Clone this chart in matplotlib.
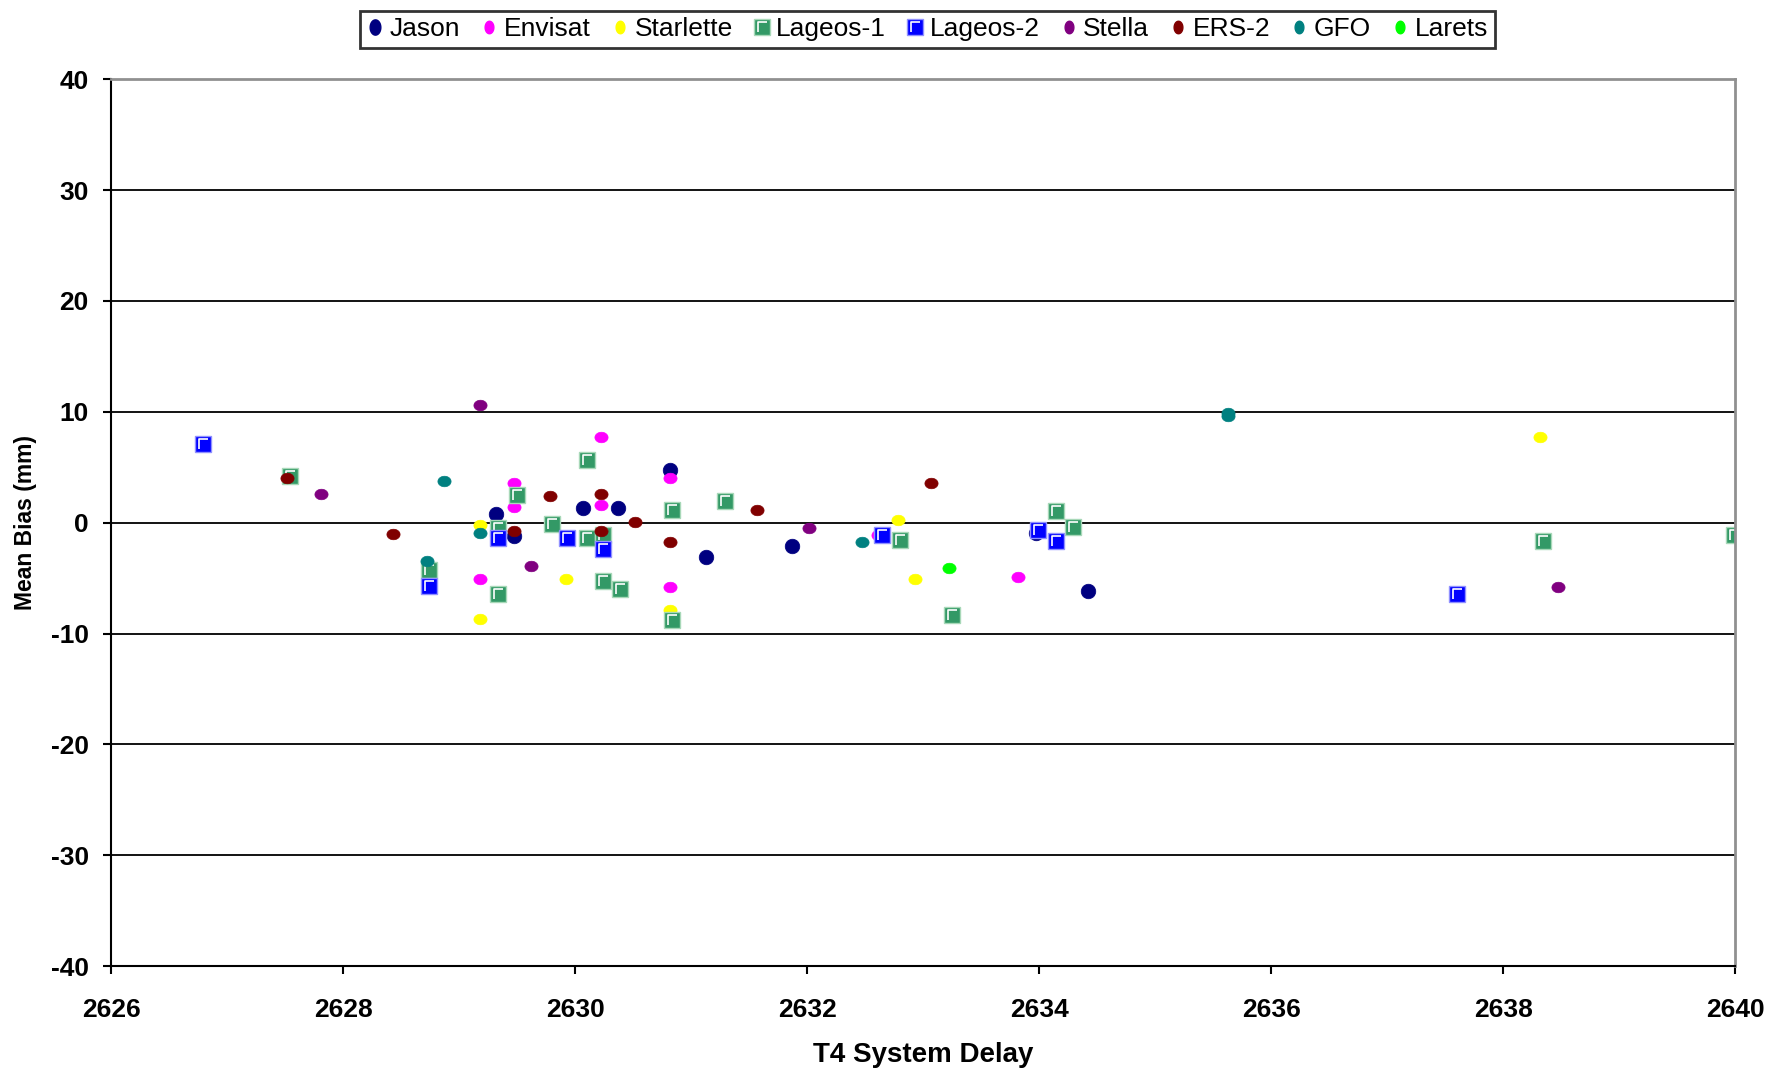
import numpy as np
import matplotlib.pyplot as plt
from matplotlib.path import Path
from matplotlib.legend_handler import HandlerTuple

plt.rcParams['font.family'] = ['Liberation Sans', 'DejaVu Sans']
plt.rcParams['axes.unicode_minus'] = False

# Data: (T4 system delay, mean bias in mm) per satellite
jason_x = [2629.32, 2629.47, 2630.07, 2630.37, 2630.82, 2631.13, 2631.87, 2633.97, 2634.42]
jason_y = [0.8, -1.16, 1.31, 1.31, 4.71, -3.05, -2.09, -0.92, -6.18]

envisat_x = [2629.18, 2629.47, 2629.47, 2630.22, 2630.22, 2630.82, 2630.82, 2632.61, 2633.82]
envisat_y = [-5.1, 3.6, 1.4, 7.72, 1.64, 4.02, -5.79, -1.13, -4.89]

starlette_x = [2629.18, 2629.18, 2629.92, 2630.82, 2632.78, 2632.93, 2638.32]
starlette_y = [-0.2, -8.68, -5.04, -7.9, 0.23, -5.1, 7.72]

lageos1_x = [2627.54, 2628.74, 2629.34, 2629.34, 2629.50, 2629.80, 2630.10, 2630.10, 2630.24, 2630.24,
             2630.39, 2630.84, 2630.84, 2631.29, 2632.80, 2633.25, 2634.15, 2634.29, 2638.34, 2639.99]
lageos1_y = [4.17, -4.26, -0.47, -6.42, 2.5, -0.16, 5.64, -1.37, -1.13, -5.22,
             -5.94, 1.1, -8.8, 2.0, -1.6, -8.35, 1.04, -0.41, -1.61, -1.13]

lageos2_x = [2626.79, 2628.74, 2629.34, 2629.93, 2630.24, 2632.65, 2633.99, 2634.15, 2637.60]
lageos2_y = [7.06, -5.7, -1.37, -1.37, -2.33, -1.13, -0.68, -1.61, -6.42]

stella_x = [2627.81, 2629.18, 2629.62, 2632.02, 2638.47]
stella_y = [2.6, 10.58, -3.87, -0.5, -5.82]

ers2_x = [2627.52, 2628.43, 2629.47, 2629.78, 2630.22, 2630.22, 2630.52, 2630.82, 2631.57, 2633.07]
ers2_y = [4.0, -0.98, -0.77, 2.4, 2.63, -0.77, 0.1, -1.76, 1.19, 3.54]

gfo_x = [2628.72, 2628.87, 2629.18, 2632.47, 2635.63, 2635.63]
gfo_y = [-3.47, 3.8, -0.95, -1.73, 9.9, 9.6]

larets_x = [2633.22]
larets_y = [-4.13]

series = [
    ("Jason", jason_x, jason_y, "#000080", "big"),
    ("Envisat", envisat_x, envisat_y, "#FF00FF", "dot"),
    ("Starlette", starlette_x, starlette_y, "#FFFF00", "dot"),
    ("Lageos-1", lageos1_x, lageos1_y, "#339966", "square"),
    ("Lageos-2", lageos2_x, lageos2_y, "#0000FF", "square"),
    ("Stella", stella_x, stella_y, "#800080", "dot"),
    ("ERS-2", ers2_x, ers2_y, "#800000", "dot"),
    ("GFO", gfo_x, gfo_y, "#008080", "dot"),
    ("Larets", larets_x, larets_y, "#00FF00", "dot"),
]

# slightly squashed dot like the spreadsheet markers
t = np.linspace(0, 2 * np.pi, 40)
dot = Path(np.column_stack([np.cos(t), 0.8 * np.sin(t)]), closed=True)
# legend shows the dots standing upright
tall_dot = Path(np.column_stack([0.7 * np.cos(t), np.sin(t)]), closed=True)
# white inner corner on the square markers
corner = Path([(-0.5, -0.5), (-0.28, -0.32), (-0.28, 0.3), (0.34, 0.3)],
              [Path.MOVETO, Path.MOVETO, Path.LINETO, Path.LINETO])
light_edge = {"#339966": "#a8d8b8", "#0000FF": "#9090ff"}

fig = plt.figure(figsize=(17.76, 10.70), dpi=100)
ax = fig.add_axes([0.0625, 0.097, 0.9145, 0.829])

handles = []
labels = []
for name, xs, ys, col, kind in series:
    if kind == "square":
        h1, = ax.plot(xs, ys, linestyle='none', marker='s', markersize=11.5,
                      markerfacecolor=col, markeredgecolor=light_edge[col], markeredgewidth=1)
        h2, = ax.plot(xs, ys, linestyle='none', marker=corner, markersize=11.5,
                      markerfacecolor='none', markeredgecolor='white', markeredgewidth=1.2)
        handles.append((h1, h2))
    else:
        if kind == "big":
            ax.plot(xs, ys, linestyle='none', marker='o', markersize=10.5,
                    markerfacecolor=col, markeredgecolor=col, markeredgewidth=0.5)
        else:
            ax.plot(xs, ys, linestyle='none', marker=dot, markersize=9.5,
                    markerfacecolor=col, markeredgecolor=col, markeredgewidth=0.5)
        # proxy artist for the legend key
        h, = ax.plot([], [], linestyle='none', marker=tall_dot, markersize=11 if kind == "big" else 9,
                     markerfacecolor=col, markeredgecolor=col)
        handles.append(h)
    labels.append(name)

ax.set_xlim(2626, 2640)
ax.set_ylim(-40, 40)
ax.set_xticks(np.arange(2626, 2641, 2))
ax.set_yticks(np.arange(-40, 41, 10))
ax.yaxis.grid(True, color='black', linewidth=1.3)
ax.set_axisbelow(True)

for side in ['left', 'bottom']:
    ax.spines[side].set_color('black')
    ax.spines[side].set_linewidth(1.5)
for side in ['top', 'right']:
    ax.spines[side].set_color('#909090')
    ax.spines[side].set_linewidth(2)

ax.tick_params(direction='out', length=6, width=1.5, labelsize=19)
ax.tick_params(axis='x', pad=17)
ax.tick_params(axis='y', pad=10)
for lab in ax.get_xticklabels() + ax.get_yticklabels():
    lab.set_fontweight('bold')

ax.set_xlabel("T4 System Delay", fontsize=20, fontweight='bold', labelpad=14)
ax.set_ylabel("Mean Bias (mm)", fontsize=16.5, fontweight='bold', labelpad=10)

leg = fig.legend(handles, labels, loc='upper center', bbox_to_anchor=(0.522, 0.990), ncol=9,
                 fontsize=19, frameon=True, fancybox=False, edgecolor='black',
                 handletextpad=0.2, columnspacing=0.75, handlelength=0.7, borderpad=0.25,
                 borderaxespad=0, handler_map={tuple: HandlerTuple(ndivide=1)})
leg.get_frame().set_linewidth(2)

plt.savefig("out.png", dpi=100)
